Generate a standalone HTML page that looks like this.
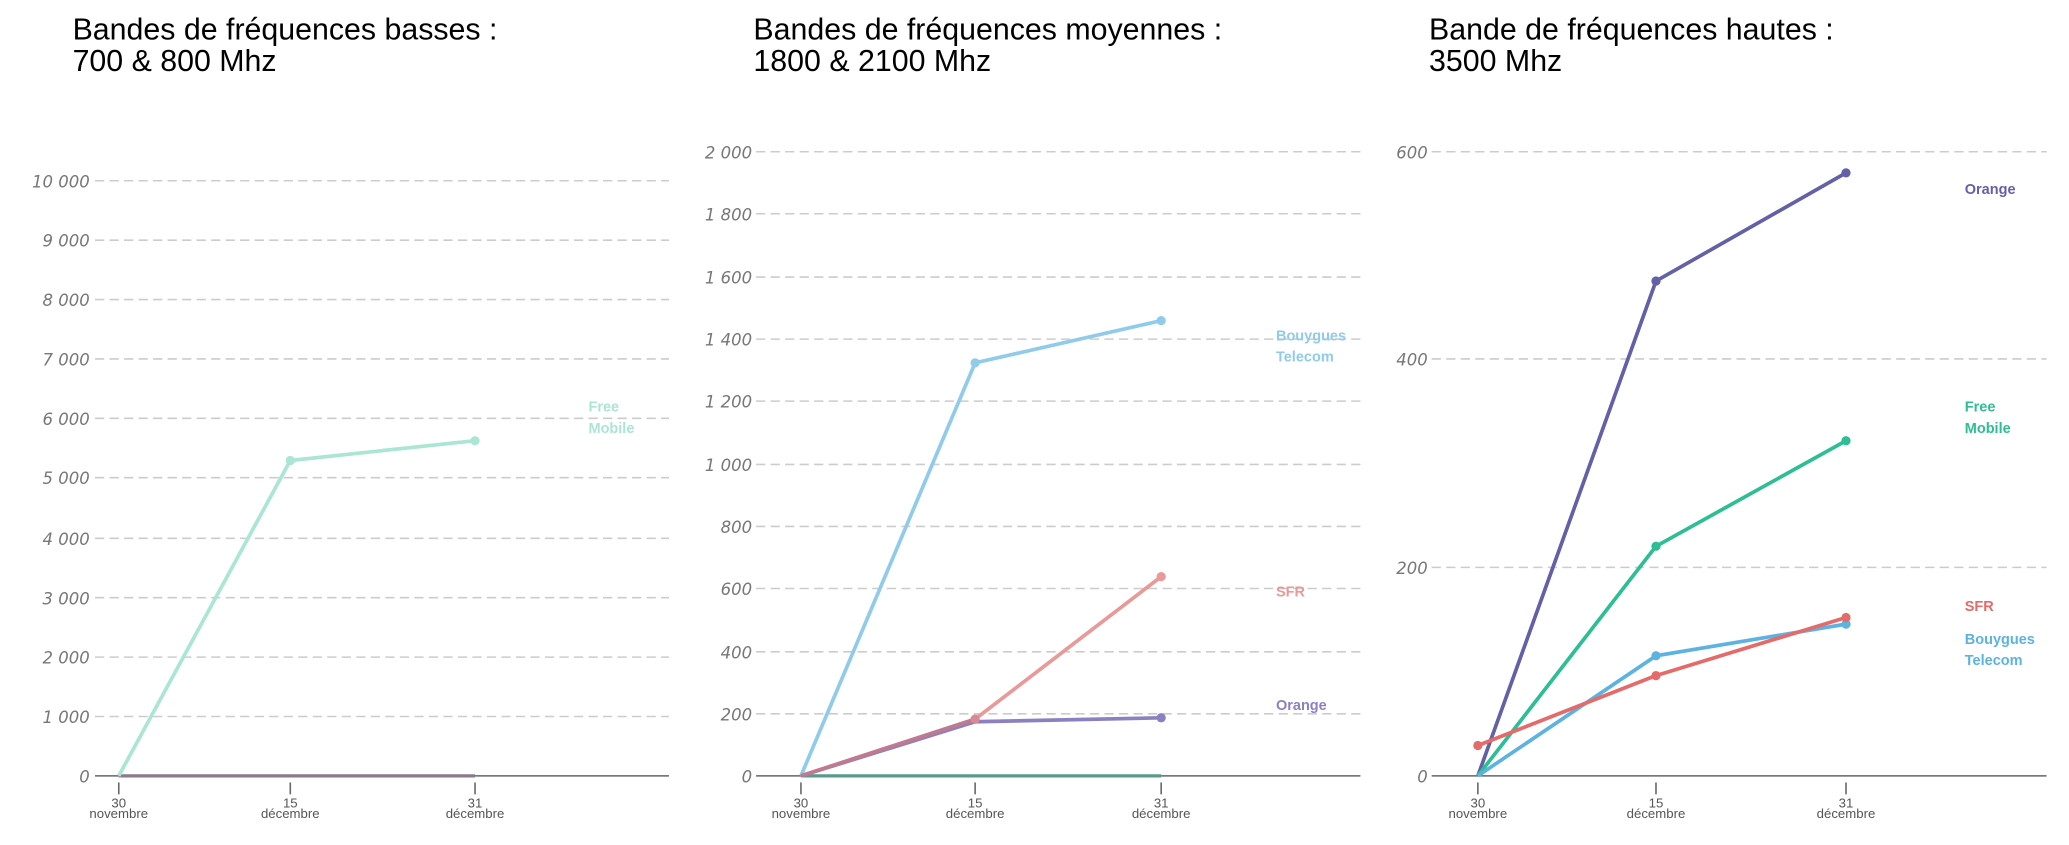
<!DOCTYPE html>
<html><head><meta charset="utf-8"><style>
body{margin:0;background:#fff}
svg{display:block}
.t{font-family:"Liberation Sans",sans-serif;font-size:23px;fill:#000}
.y{font-family:"DejaVu Sans","Liberation Sans",sans-serif;font-style:italic;font-size:12.5px;fill:#777;text-anchor:end}
.x{font-family:"Liberation Sans",sans-serif;font-size:10px;fill:#555;text-anchor:middle}
.g{stroke:#ccc;stroke-width:1.2;stroke-dasharray:7,4}
.a{stroke:#666;stroke-width:1.2}
.l{font-family:"Liberation Sans",sans-serif;font-weight:bold;font-size:11px}
</style></head><body>
<svg width="2069" height="845" viewBox="0 0 1568 640.4" preserveAspectRatio="none" xmlns="http://www.w3.org/2000/svg">
<text class="t" x="55" y="30">Bandes de fréquences basses :</text>
<text class="t" x="55" y="54">700 &amp; 800 Mhz</text>
<text class="t" x="571" y="30">Bandes de fréquences moyennes :</text>
<text class="t" x="571" y="54">1800 &amp; 2100 Mhz</text>
<text class="t" x="1083" y="30">Bande de fréquences hautes :</text>
<text class="t" x="1083" y="54">3500 Mhz</text>

<!-- Panel 1 -->
<g>
<line class="g" x1="72" x2="507" y1="137" y2="137"/><line class="g" x1="72" x2="507" y1="182" y2="182"/>
<line class="g" x1="72" x2="507" y1="227" y2="227"/><line class="g" x1="72" x2="507" y1="272" y2="272"/>
<line class="g" x1="72" x2="507" y1="317" y2="317"/><line class="g" x1="72" x2="507" y1="362" y2="362"/>
<line class="g" x1="72" x2="507" y1="408" y2="408"/><line class="g" x1="72" x2="507" y1="453" y2="453"/>
<line class="g" x1="72" x2="507" y1="498" y2="498"/><line class="g" x1="72" x2="507" y1="543" y2="543"/>
<text class="y" x="68" y="142">10 000</text><text class="y" x="68" y="187">9 000</text><text class="y" x="68" y="232">8 000</text>
<text class="y" x="68" y="277">7 000</text><text class="y" x="68" y="322">6 000</text><text class="y" x="68" y="367">5 000</text>
<text class="y" x="68" y="413">4 000</text><text class="y" x="68" y="458">3 000</text><text class="y" x="68" y="503">2 000</text>
<text class="y" x="68" y="548">1 000</text><text class="y" x="68" y="593">0</text>
<line class="a" x1="72" x2="507" y1="588" y2="588"/>
<line x1="90" x2="360" y1="588" y2="588" stroke="#8a7a8a" stroke-width="2.5"/>
<polyline points="90,588 220,349 360,334" fill="none" stroke="#abe5d4" stroke-width="2.8"/>
<circle cx="220" cy="349" r="3.5" fill="#abe5d4"/><circle cx="360" cy="334" r="3.5" fill="#abe5d4"/>
<text class="l" fill="#abe5d4" x="446" y="312">Free</text><text class="l" fill="#abe5d4" x="446" y="328">Mobile</text>
<line class="a" x1="90" x2="90" y1="593" y2="602"/><line class="a" x1="220" x2="220" y1="593" y2="602"/><line class="a" x1="360" x2="360" y1="593" y2="602"/>
<text class="x" x="90" y="612">30</text><text class="x" x="90" y="620">novembre</text>
<text class="x" x="220" y="612">15</text><text class="x" x="220" y="620">décembre</text>
<text class="x" x="360" y="612">31</text><text class="x" x="360" y="620">décembre</text>
</g>

<!-- Panel 2 -->
<g>
<line class="g" x1="573" x2="1031" y1="115" y2="115"/><line class="g" x1="573" x2="1031" y1="162" y2="162"/>
<line class="g" x1="573" x2="1031" y1="210" y2="210"/><line class="g" x1="573" x2="1031" y1="257" y2="257"/>
<line class="g" x1="573" x2="1031" y1="304" y2="304"/><line class="g" x1="573" x2="1031" y1="352" y2="352"/>
<line class="g" x1="573" x2="1031" y1="399" y2="399"/><line class="g" x1="573" x2="1031" y1="446" y2="446"/>
<line class="g" x1="573" x2="1031" y1="494" y2="494"/><line class="g" x1="573" x2="1031" y1="541" y2="541"/>
<text class="y" x="570" y="120">2 000</text><text class="y" x="570" y="167">1 800</text><text class="y" x="570" y="215">1 600</text>
<text class="y" x="570" y="262">1 400</text><text class="y" x="570" y="309">1 200</text><text class="y" x="570" y="357">1 000</text>
<text class="y" x="570" y="404">800</text><text class="y" x="570" y="451">600</text><text class="y" x="570" y="499">400</text>
<text class="y" x="570" y="546">200</text><text class="y" x="570" y="593">0</text>
<line class="a" x1="573" x2="1031" y1="588" y2="588"/>
<line x1="607" x2="880" y1="588" y2="588" stroke="#5a9a8a" stroke-width="2.5"/>
<polyline points="607,588 739,275 880,243" fill="none" stroke="#90cbea" stroke-width="2.8"/>
<polyline points="607,588 739,545 880,437" fill="none" stroke="#e99a98" stroke-width="2.8"/>
<polyline points="607,588 739,547 880,544" fill="none" stroke="#8c80c0" stroke-width="2.8"/>
<polyline points="607,588 739,545" fill="none" stroke="#c07a90" stroke-width="2.8"/>
<circle cx="739" cy="275" r="3.5" fill="#90cbea"/><circle cx="880" cy="243" r="3.5" fill="#90cbea"/>
<circle cx="739" cy="545" r="3.5" fill="#d88a98"/><circle cx="880" cy="437" r="3.5" fill="#e99a98"/>
<circle cx="880" cy="544" r="3.5" fill="#8c80c0"/>
<text class="l" fill="#90cbea" x="967" y="258">Bouygues</text><text class="l" fill="#90cbea" x="967" y="274">Telecom</text>
<text class="l" fill="#e99a98" x="967" y="452">SFR</text>
<text class="l" fill="#8c80c0" x="967" y="538">Orange</text>
<line class="a" x1="607" x2="607" y1="593" y2="602"/><line class="a" x1="739" x2="739" y1="593" y2="602"/><line class="a" x1="880" x2="880" y1="593" y2="602"/>
<text class="x" x="607" y="612">30</text><text class="x" x="607" y="620">novembre</text>
<text class="x" x="739" y="612">15</text><text class="x" x="739" y="620">décembre</text>
<text class="x" x="880" y="612">31</text><text class="x" x="880" y="620">décembre</text>
</g>

<!-- Panel 3 -->
<g>
<line class="g" x1="1085" x2="1551" y1="115" y2="115"/><line class="g" x1="1085" x2="1551" y1="272" y2="272"/>
<line class="g" x1="1085" x2="1551" y1="430" y2="430"/>
<text class="y" x="1082" y="120">600</text><text class="y" x="1082" y="277">400</text>
<text class="y" x="1082" y="435">200</text><text class="y" x="1082" y="593">0</text>
<line class="a" x1="1085" x2="1551" y1="588" y2="588"/>
<polyline points="1120,588 1255,213 1399,131" fill="none" stroke="#6460a8" stroke-width="2.8"/>
<polyline points="1120,588 1255,414 1399,334" fill="none" stroke="#2ebe96" stroke-width="2.8"/>
<polyline points="1120,588 1255,497 1399,473" fill="none" stroke="#5db3e0" stroke-width="2.8"/>
<polyline points="1120,565 1255,512 1399,468" fill="none" stroke="#e56a6a" stroke-width="2.8"/>
<circle cx="1255" cy="213" r="3.5" fill="#6460a8"/><circle cx="1399" cy="131" r="3.5" fill="#6460a8"/>
<circle cx="1255" cy="414" r="3.5" fill="#2ebe96"/><circle cx="1399" cy="334" r="3.5" fill="#2ebe96"/>
<circle cx="1255" cy="497" r="3.5" fill="#5db3e0"/><circle cx="1399" cy="473" r="3.5" fill="#5db3e0"/>
<circle cx="1120" cy="565" r="3.5" fill="#e56a6a"/><circle cx="1255" cy="512" r="3.5" fill="#e56a6a"/><circle cx="1399" cy="468" r="3.5" fill="#e56a6a"/>
<text class="l" fill="#6460a8" x="1489" y="147">Orange</text>
<text class="l" fill="#2ebe96" x="1489" y="312">Free</text><text class="l" fill="#2ebe96" x="1489" y="328">Mobile</text>
<text class="l" fill="#e56a6a" x="1489" y="463">SFR</text>
<text class="l" fill="#5db3e0" x="1489" y="488">Bouygues</text><text class="l" fill="#5db3e0" x="1489" y="504">Telecom</text>
<line class="a" x1="1120" x2="1120" y1="593" y2="602"/><line class="a" x1="1255" x2="1255" y1="593" y2="602"/><line class="a" x1="1399" x2="1399" y1="593" y2="602"/>
<text class="x" x="1120" y="612">30</text><text class="x" x="1120" y="620">novembre</text>
<text class="x" x="1255" y="612">15</text><text class="x" x="1255" y="620">décembre</text>
<text class="x" x="1399" y="612">31</text><text class="x" x="1399" y="620">décembre</text>
</g>
</svg>
</body></html>
